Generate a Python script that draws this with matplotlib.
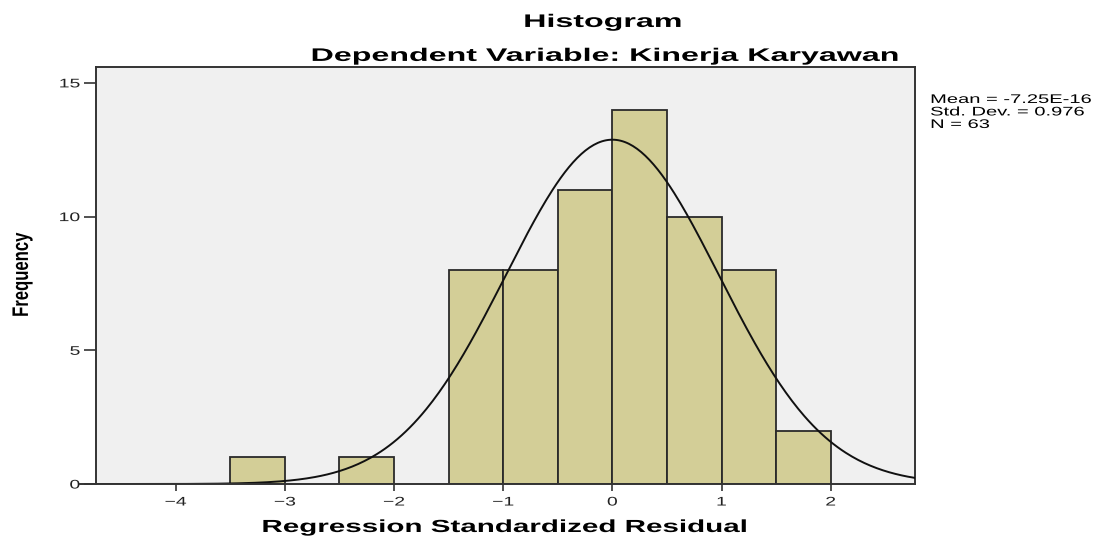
import numpy as np
import matplotlib.pyplot as plt
from matplotlib.patheffects import AbstractPathEffect
from matplotlib.transforms import Affine2D

# histogram bins read from the SPSS output
bin_left = [-3.5, -2.5, -1.5, -1.0, -0.5, 0.0, 0.5, 1.0, 1.5]
counts = [1, 1, 8, 8, 11, 14, 10, 8, 2]
bin_width = 0.5
mean = -7.25e-16
std = 0.976
n = 63
x_ticks = [-4, -3, -2, -1, 0, 1, 2]
y_ticks = [0, 5, 10, 15]
stats_lines = ['Mean = -7.25E-16', 'Std. Dev. = 0.976', 'N = 63']


class Stretch(AbstractPathEffect):
    # widen the glyphs, the SPSS export is stretched sideways
    def __init__(self, sx=1.0, sy=1.0, anchor='center'):
        super().__init__()
        self.sx, self.sy, self.anchor = sx, sy, anchor

    def draw_path(self, renderer, gc, tpath, affine, rgbFace=None):
        ext = tpath.get_extents()
        cx = {'left': 0.0, 'center': (ext.x0 + ext.x1) / 2, 'right': ext.x1}[self.anchor]
        cy = (ext.y0 + ext.y1) / 2
        pre = Affine2D().translate(-cx, -cy).scale(self.sx, self.sy).translate(cx, cy)
        renderer.draw_path(gc, tpath, pre + affine, rgbFace)


plt.rcParams['font.family'] = ['Liberation Sans', 'DejaVu Sans']

fig = plt.figure(figsize=(11.02, 5.39), dpi=100)
ax = fig.add_axes([0.0871, 0.102, 0.743, 0.774])
ax.set_facecolor('#f0f0f0')

ax.bar(bin_left, counts, width=bin_width, align='edge', color='#d3ce97',
       edgecolor='#2a2a2a', linewidth=1.3, zorder=2)

# normal curve scaled to the histogram
xs = np.linspace(-4.75, 2.8, 400)
ys = n * bin_width / (std * np.sqrt(2 * np.pi)) * np.exp(-0.5 * ((xs - mean) / std) ** 2)
ax.plot(xs, ys, color='#111111', linewidth=1.4, zorder=3)

ax.set_xlim(-4.73, 2.77)
ax.set_ylim(0, 15.6)
ax.set_xticks(x_ticks)
ax.set_yticks(y_ticks)
ax.tick_params(direction='out', width=1.2, colors='#333333', labelsize=9, labelcolor='#222222')
ax.tick_params(axis='x', length=5, pad=4)
ax.tick_params(axis='y', length=9, pad=2.5)
for lab in ax.get_xticklabels():
    lab.set_path_effects([Stretch(1.55, 1, 'center')])
for lab in ax.get_yticklabels():
    lab.set_path_effects([Stretch(1.55, 1, 'right')])
for s in ax.spines.values():
    s.set_color('#333333')
    s.set_linewidth(1.4)
ax.spines['bottom'].set_visible(False)
ax.axhline(0, xmin=-0.02, xmax=1.0, color='#333333', linewidth=1.4, clip_on=False, zorder=4)

fig.text(0.458, 0.013, 'Regression Standardized Residual', fontsize=12.6, fontweight='bold',
         ha='center', va='baseline', path_effects=[Stretch(1.69, 1, 'center')])
fig.text(0.020, 0.490, 'Frequency', rotation=90, fontsize=12, fontweight='bold',
         ha='center', va='center', path_effects=[Stretch(1, 1.35, 'center')])

fig.text(0.547, 0.950, 'Histogram', fontsize=13.1, fontweight='bold', ha='center',
         va='baseline', path_effects=[Stretch(1.77, 1, 'center')])
fig.text(0.549, 0.887, 'Dependent Variable: Kinerja Karyawan', fontsize=13.1,
         fontweight='bold', ha='center', va='baseline', path_effects=[Stretch(1.77, 1, 'center')])

for i, line in enumerate(stats_lines):
    fig.text(0.844, 0.809 - i * 0.0232, line, fontsize=9, ha='left', va='baseline',
             path_effects=[Stretch(1.61, 1, 'left')])

fig.savefig('out.png', dpi=100)
